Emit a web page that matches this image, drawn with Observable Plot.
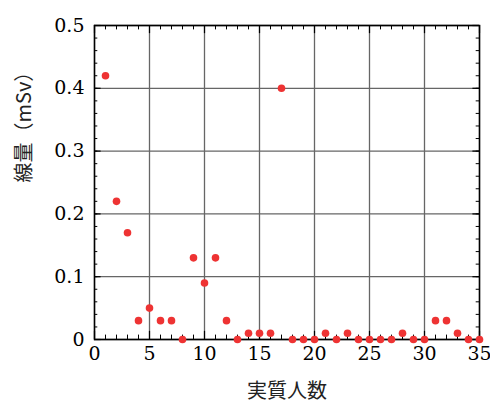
<!DOCTYPE html>
<html><head><meta charset="utf-8">
<script src="https://cdn.jsdelivr.net/npm/d3@7"></script>
<script src="https://cdn.jsdelivr.net/npm/@observablehq/plot@0.6"></script>
<style>
body{margin:0;background:#fff}
</style>
</head><body><div id="chart"></div>
<script>
const people = [1,2,3,4,5,6,7,8,9,10,11,12,13,14,15,16,17,18,19,20,21,22,23,24,25,26,27,28,29,30,31,32,33,34,35];
const dose = [0.42,0.22,0.17,0.03,0.05,0.03,0.03,0.0,0.13,0.09,0.13,0.03,0.0,0.01,0.01,0.01,0.40,0.0,0.0,0.0,0.01,0.0,0.01,0.0,0.0,0.0,0.0,0.01,0.0,0.0,0.03,0.03,0.01,0.0,0.0];
const xTicks = [0,5,10,15,20,25,30,35];
const xMinor = d3.range(0,36,1);
const yTicks = [0,0.1,0.2,0.3,0.4,0.5];
const yMinor = d3.range(0,0.501,0.02);
const xTitle = "実質人数";
const yTitle = "線量（mSv）";
const data = people.map((p,i)=>({p, v: dose[i]}));
const cjk = "Noto Sans CJK JP";
const serifFont = "DejaVu Serif";
const chart = Plot.plot({
  width: 490, height: 410,
  marginLeft: 94, marginRight: 11, marginTop: 25, marginBottom: 71,
  style: {fontSize: "19px", color: "#000", background: "#fff"},
  x: {domain: [0,35], axis: null},
  y: {domain: [0,0.5], axis: null},
  marks: [
    Plot.gridX(xTicks, {stroke: "#666", strokeOpacity: 1, strokeWidth: 1.3}),
    Plot.gridY(yTicks, {stroke: "#666", strokeOpacity: 1, strokeWidth: 1.3}),
    Plot.text(xTicks, {x: d=>d, frameAnchor: "bottom", dy: 20, text: d=>String(d), fontFamily: serifFont, fontSize: 19, fill: "#000"}),
    Plot.text(yTicks, {y: d=>d, frameAnchor: "left", dx: -10, textAnchor: "end", text: d=>String(d), fontFamily: serifFont, fontSize: 19, fill: "#000"}),
    Plot.ruleX(xTicks, {x: d=>d, y1: 0, y2: 0.013, stroke: "#000", strokeWidth: 1.2}),
    Plot.ruleX(xMinor, {x: d=>d, y1: 0, y2: 0.007, stroke: "#000", strokeWidth: 1}),
    Plot.ruleX(xTicks, {x: d=>d, y1: 0.5, y2: 0.487, stroke: "#000", strokeWidth: 1.2}),
    Plot.ruleX(xMinor, {x: d=>d, y1: 0.5, y2: 0.493, stroke: "#000", strokeWidth: 1}),
    Plot.ruleY(yTicks, {y: d=>d, x1: 0, x2: 0.6, stroke: "#000", strokeWidth: 1.2}),
    Plot.ruleY(yMinor, {y: d=>d, x1: 0, x2: 0.3, stroke: "#000", strokeWidth: 1}),
    Plot.ruleY(yTicks, {y: d=>d, x1: 35, x2: 34.4, stroke: "#000", strokeWidth: 1.2}),
    Plot.ruleY(yMinor, {y: d=>d, x1: 35, x2: 34.7, stroke: "#000", strokeWidth: 1}),
    Plot.frame({stroke: "#000", strokeWidth: 1.5}),
    Plot.dot(data, {x: "p", y: "v", r: 3.8, fill: "#ee3333", stroke: "none", clip: false}),
    Plot.text([xTitle], {frameAnchor: "bottom", dy: 58, text: d=>d, fontFamily: cjk, fontSize: 20, fill: "#222"}),
    Plot.text([yTitle], {frameAnchor: "left", dx: -70, rotate: -90, text: d=>d, fontFamily: cjk, fontSize: 20, fill: "#222"})
  ]
});
document.getElementById("chart").append(chart);
</script></body></html>
